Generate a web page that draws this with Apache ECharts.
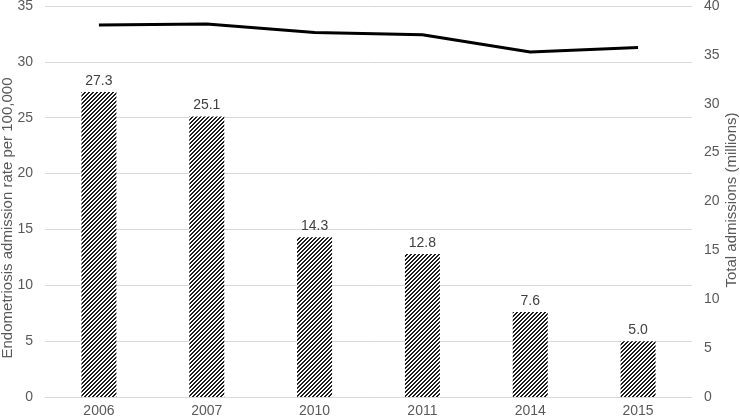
<!DOCTYPE html>
<html>
<head>
<meta charset="utf-8">
<script src="https://cdn.jsdelivr.net/npm/echarts@6/dist/echarts.min.js"></script>
<style>
html,body{margin:0;padding:0;background:#fff;}
#chart{width:740px;height:419px;}
</style>
</head>
<body>
<div id="chart"></div>
<script>
const categories = ['2006', '2007', '2010', '2011', '2014', '2015'];
const admissionRate = [27.3, 25.1, 14.3, 12.8, 7.6, 5.0];
const totalAdmissions = [38.05, 38.15, 37.3, 37.05, 35.3, 35.75];
const leftTicks = {min: 0, max: 35, interval: 5};
const rightTicks = {min: 0, max: 40, interval: 5};
const leftTitle = 'Endometriosis admission rate per 100,000';
const rightTitle = 'Total admissions (millions)';

function hatch() {
  const s = 4;
  const c = document.createElement('canvas');
  c.width = s; c.height = s;
  const ctx = c.getContext('2d');
  const img = ctx.createImageData(s, s);
  for (let y = 0; y < s; y++) {
    for (let x = 0; x < s; x++) {
      const i = (y * s + x) * 4;
      const dark = ((x + y) % s) < 2;
      const v = dark ? 30 : 255;
      img.data[i] = v; img.data[i+1] = v; img.data[i+2] = v; img.data[i+3] = 255;
    }
  }
  ctx.putImageData(img, 0, 0);
  return c;
}

const chart = echarts.init(document.getElementById('chart'), null, {renderer: 'canvas'});
const font = 'Liberation Sans, Arial, sans-serif';
chart.setOption({
  animation: false,
  grid: {left: 45, right: 48, top: 6, bottom: 22, containLabel: false, outerBoundsMode: 'none'},
  graphic: [
    {
      type: 'text', x: 8, y: 218, rotation: Math.PI / 2,
      style: {text: leftTitle, fill: '#595959', font: '15px ' + font, align: 'center', verticalAlign: 'middle'}
    },
    {
      type: 'text', x: 732, y: 200, rotation: Math.PI / 2,
      style: {text: rightTitle, fill: '#595959', font: '15px ' + font, align: 'center', verticalAlign: 'middle'}
    }
  ],
  xAxis: {
    type: 'category',
    data: categories,
    axisLine: {show: true, lineStyle: {color: '#d9d9d9', width: 1}},
    axisTick: {show: false},
    axisLabel: {color: '#595959', fontSize: 14, fontFamily: font, margin: 7}
  },
  yAxis: [
    {
      type: 'value', min: leftTicks.min, max: leftTicks.max, interval: leftTicks.interval,
      axisLine: {show: false}, axisTick: {show: false},
      axisLabel: {color: '#595959', fontSize: 14, fontFamily: font, margin: 12},
      splitLine: {lineStyle: {color: '#d9d9d9', width: 1}}
    },
    {
      type: 'value', min: rightTicks.min, max: rightTicks.max, interval: rightTicks.interval,
      axisLine: {show: false}, axisTick: {show: false},
      axisLabel: {color: '#595959', fontSize: 14, fontFamily: font, margin: 12},
      splitLine: {show: false}
    }
  ],
  series: [
    {
      type: 'bar',
      data: admissionRate,
      yAxisIndex: 0,
      barWidth: 35,
      itemStyle: {color: {image: hatch(), repeat: 'repeat'}},
      label: {
        show: true, position: 'top', distance: 4,
        color: '#404040', fontSize: 14, fontFamily: font,
        formatter: p => p.value.toFixed(1)
      }
    },
    {
      type: 'line',
      data: totalAdmissions,
      yAxisIndex: 1,
      symbol: 'none',
      lineStyle: {color: '#000000', width: 3},
      z: 5
    }
  ]
});
</script>
</body>
</html>
